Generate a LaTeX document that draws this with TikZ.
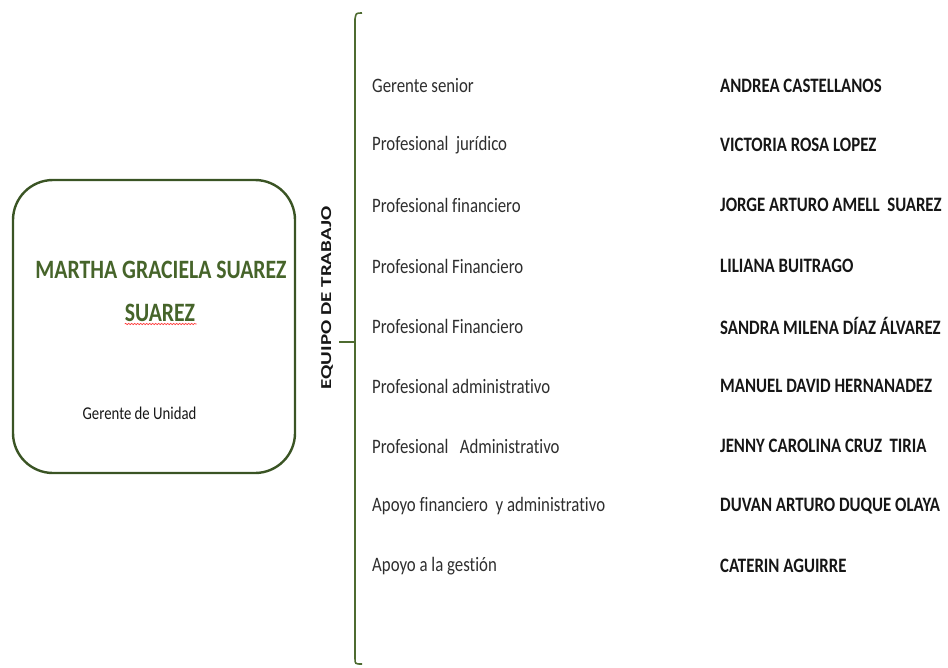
\documentclass[tikz,border=0pt]{standalone}
\usepackage{fontspec}
\setmainfont[FakeStretch=0.82,Ligatures=NoCommon]{Carlito}
\newfontfamily\plainfont[Ligatures=NoCommon]{Carlito}
\usepackage{tikz}
\usetikzlibrary{decorations.pathmorphing}
\definecolor{boxgreen}{HTML}{3A5424}
\definecolor{titlegreen}{HTML}{46642A}
\definecolor{bracegreen}{HTML}{4E6B30}
\definecolor{rolegray}{HTML}{2E2E2E}
\definecolor{namegray}{HTML}{161616}
\tikzset{
  role/.style={anchor=west,inner sep=0pt,text=rolegray,font=\fontsize{20.5}{22}\selectfont},
  person/.style={anchor=west,inner sep=0pt,text=namegray,font=\bfseries\fontsize{20.5}{23}\selectfont},
  brace/.style={draw=bracegreen,line width=1.6pt}
}

\begin{document}
\begin{tikzpicture}[x=1pt,y=-1pt]
\useasboundingbox (0,0) rectangle (948,667);
% box of the head:
\node[draw=boxgreen,line width=2.4pt,rounded corners=40pt,minimum width=282pt,minimum height=293pt,inner sep=0pt] (box) at (154,326.5) {};
\node[text=titlegreen,inner sep=0pt,font=\bfseries\fontsize{26.5}{28}\selectfont] (head1) at (161,270) {MARTHA GRACIELA SUAREZ};
\node[text=titlegreen,inner sep=0pt,font=\bfseries\fontsize{26.5}{28}\selectfont] (head2) at (160,313) {SUAREZ};
\draw[red!80,line width=0.6pt,decorate,decoration={snake,amplitude=0.7pt,segment length=3pt}] (head2.south west) ++(0,2) -- ++(72,0);
\node[text=namegray,inner sep=0pt,font=\fontsize{18}{20}\selectfont] (unit) at (139.5,413) {Gerente de Unidad};
% bracket:
\node[rotate=90,inner sep=0pt,text=namegray,font=\plainfont\bfseries\fontsize{21}{23}\selectfont] (team) at (327,298) {\scalebox{1}[0.72]{EQUIPO DE TRABAJO}};
\coordinate (btop) at (362,13);
\coordinate (bbot) at (362,664);
\coordinate (bmid) at (355,342);
\draw[brace] (btop) .. controls (356,13) .. (355,19) -- (355,658) .. controls (355,664) .. (bbot);
\draw[brace] (team.south |- bmid) ++(6,0) -- (bmid);
% roles:
\node[role] (r1) at (372,86) {Gerente senior};
\node[role] (r2) at (372,145) {Profesional\ \ jurídico};
\node[role] (r3) at (372,205) {Profesional financiero};
\node[role] (r4) at (372,266) {Profesional Financiero};
\node[role] (r5) at (372,326) {Profesional Financiero};
\node[role] (r6) at (372,386) {Profesional administrativo};
\node[role] (r7) at (372,446) {Profesional\ \ \ Administrativo};
\node[role] (r8) at (372,506) {Apoyo financiero\ \ y administrativo};
\node[role] (r9) at (372,566) {Apoyo a la gestión};
% names:
\node[person] (n1) at (720,86) {ANDREA CASTELLANOS};
\node[person] (n2) at (720,145) {VICTORIA ROSA LOPEZ};
\node[person] (n3) at (720,205) {JORGE ARTURO AMELL\ \ SUAREZ};
\node[person] (n4) at (720,266) {LILIANA BUITRAGO};
\node[person] (n5) at (720,326) {SANDRA MILENA DÍAZ ÁLVAREZ};
\node[person] (n6) at (720,386) {MANUEL DAVID HERNANADEZ};
\node[person] (n7) at (720,446) {JENNY CAROLINA CRUZ\ \ TIRIA};
\node[person] (n8) at (720,506) {DUVAN ARTURO DUQUE OLAYA};
\node[person] (n9) at (720,566) {CATERIN AGUIRRE};
\end{tikzpicture}
\end{document}
